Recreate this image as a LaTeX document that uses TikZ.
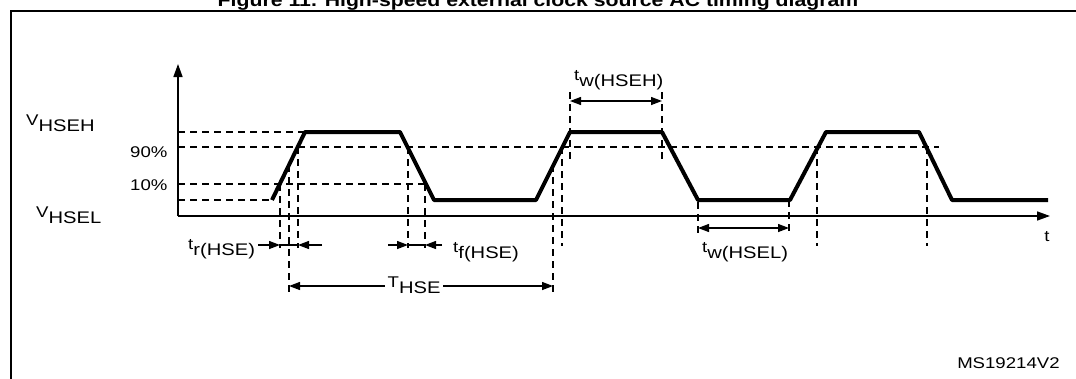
\documentclass[tikz,border=0pt]{standalone}
\usepackage{fontspec}
\setmainfont{Liberation Sans}
\usetikzlibrary{arrows.meta}
\newcommand{\sublbl}[2]{#1\raisebox{-6pt}{\fontsize{16.8}{16.8}\selectfont #2}}
\begin{document}
\begin{tikzpicture}[x=1pt,y=-1pt,
  sig/.style={line width=4pt, line join=round},
  axis/.style={line width=1.6pt, -{Triangle[length=13pt,width=9pt]}},
  dashln/.style={line width=1.3pt, dash pattern=on 7pt off 5pt},
  tip/.style={line width=1.3pt, -{Triangle[length=11pt,width=8pt]}},
  dbl/.style={line width=1.3pt, {Triangle[length=11pt,width=8pt]}-{Triangle[length=11pt,width=8pt]}},
  lbl/.style={anchor=base west, inner sep=0pt, xscale=1.2, transform shape, font=\fontsize{15.5}{15.5}\selectfont},
  ]
\useasboundingbox (0,0) rectangle (1076,378);
% frame and title
\draw[line width=2pt] (11,380) -- (11,11) -- (1080,11);
\node[anchor=base, inner sep=0pt, xscale=1.18, transform shape, font=\bfseries\fontsize{18}{18}\selectfont] (title) at (538,6) {Figure 11. High-speed external clock source AC timing diagram};
% axes
\coordinate (O) at (178,216);
\coordinate (ytop) at (178,64);
\coordinate (xend) at (1050,216);
\draw[axis] (O) -- (ytop);
\draw[axis] (O) -- (xend);
% level lines
\coordinate (h0) at (178,132); \coordinate (h1) at (305,132);
\coordinate (n0) at (178,147); \coordinate (n1) at (939,147);
\coordinate (d0) at (178,184); \coordinate (d1) at (426,184);
\coordinate (l0) at (178,200); \coordinate (l1) at (272,200);
\draw[dashln] (h0) -- (h1);
\draw[dashln] (n0) -- (n1);
\draw[dashln] (d0) -- (d1);
\draw[dashln] (l0) -- (l1);
% vertical markers
\foreach \x/\a/\b in {280/184/248, 289/165/293, 298/147/248, 408/147/248, 425/184/248,
  553/165/296, 562/147/246, 570/92/160, 662/92/160, 698/202/234, 789/200/234, 817/147/246, 927/147/246}
  \draw[dashln] (\x,\a) -- (\x,\b);
% signal
\draw[sig] (272,200) -- (305,132) -- (400,132) -- (434,200) -- (536,200) -- (570,132) -- (662,132)
  -- (698,200) -- (790,200) -- (826,132) -- (919,132) -- (952,200) -- (1048,200);
% rise / fall time arrows
\coordinate (r1) at (280,245); \coordinate (r2) at (298,245);
\coordinate (ra) at (258,245); \coordinate (rb) at (322,245);
\draw[tip] (ra) -- (r1);
\draw[line width=1.3pt] (r1) -- (r2);
\draw[tip] (rb) -- (r2);
\coordinate (f1) at (408,245); \coordinate (f2) at (425,245);
\coordinate (fa) at (388,245); \coordinate (fb) at (442,245);
\draw[tip] (fa) -- (f1);
\draw[line width=1.3pt] (f1) -- (f2);
\draw[tip] (fb) -- (f2);
% period and pulse widths
\coordinate (T1) at (289,286); \coordinate (T2) at (553,286);
\draw[dbl] (T1) -- (T2);
\coordinate (wh1) at (570,101); \coordinate (wh2) at (662,101);
\draw[dbl] (wh1) -- (wh2);
\coordinate (wl1) at (698,228); \coordinate (wl2) at (789,228);
\draw[dbl] (wl1) -- (wl2);
% labels
\node[lbl] (vh) at (26,125) {\sublbl{V}{HSEH}};
\node[lbl] (p90) at (130,157) {90\%};
\node[lbl] (p10) at (130,190) {10\%};
\node[lbl] (vl) at (36,217) {\sublbl{V}{HSEL}};
\node[lbl] (tr) at (188,249) {\sublbl{t}{r(HSE)}};
\node[lbl] (tf) at (453,252) {\sublbl{t}{f(HSE)}};
\node[lbl, fill=white, inner xsep=2pt] (thse) at (385,287) {\sublbl{T}{HSE}};
\node[lbl] (twh) at (574,80) {\sublbl{t}{w(HSEH)}};
\node[lbl] (twl) at (702,252) {\sublbl{t}{w(HSEL)}};
\node[lbl] (tt) at (1044,241) {t};
\node[lbl] (ms) at (957,368) {MS19214V2};
\end{tikzpicture}
\end{document}
